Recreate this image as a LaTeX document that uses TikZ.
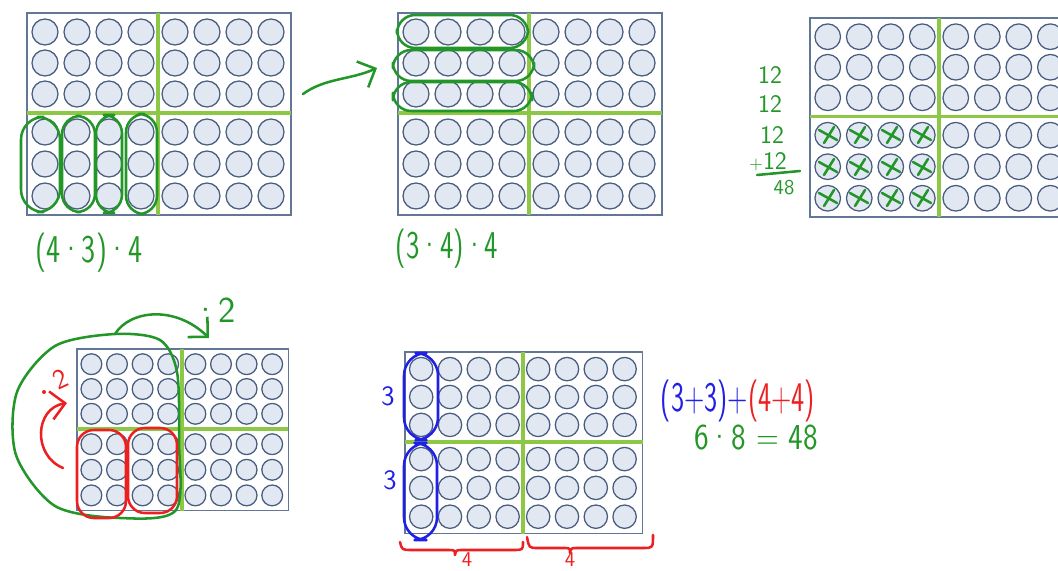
\documentclass[tikz,border=0pt]{standalone}
\usetikzlibrary{arrows.meta}
\definecolor{beadfill}{RGB}{226,232,241}
\definecolor{beadline}{RGB}{72,92,128}
\definecolor{trayline}{RGB}{98,118,150}
\definecolor{splitgreen}{RGB}{140,200,70}
\definecolor{pengreen}{RGB}{34,150,40}
\definecolor{penred}{RGB}{236,32,32}
\definecolor{penblue}{RGB}{32,32,230}
\tikzset{
  tray/.style={draw=trayline, line width=0.8pt},
  bead/.style={draw=beadline, fill=beadfill, line width=0.9pt},
  split/.style={draw=splitgreen, line width=2.6pt},
  pen/.style={draw=pengreen, line width=1.8pt, line cap=round, line join=round},
  redpen/.style={pen, draw=penred},
  bluepen/.style={pen, draw=penblue},
  ring/.style={pen, rounded corners=13},
  barb/.style={-{Straight Barb[angle=90:5mm]}},
  hand/.style={font=\sffamily\fontsize{#1}{#1}\selectfont, inner sep=0pt},
  hand/.default=24,
}
% one 6x8 tray of beads, top left corner at (#1,#2), scaled by #3
\newcommand{\beadtray}[3]{%
  \begin{scope}[shift={(#1,#2)}, scale=#3]
    \draw[tray] (0,0) rectangle (264,202);
    \foreach \cx in {18,50,82,114,148,180,212,244}
      \foreach \cy in {19,50,81,119,151,183}
        \draw[bead] (\cx,\cy) circle [radius=13];
    \draw[split] (131,0) -- (131,202);
    \draw[split] (0,100) -- (264,100);
  \end{scope}}
\newcommand{\smallplus}{{\fontsize{13}{13}\selectfont+}}

\begin{document}
\begin{tikzpicture}[x=0.025cm, y=-0.025cm]
  \useasboundingbox (0,0) rectangle (1058,571);

  % the five trays
  \beadtray{27}{13}{1}
  \beadtray{398}{13}{1}
  \beadtray{810}{18}{0.985}
  \beadtray{77}{349}{0.8}
  \beadtray{405}{352}{0.9}

  % tray 1: columns of the lower left part
  \draw[ring, rounded corners=16] (21,117) rectangle (60,212);
  \draw[ring] (62,116) rectangle (95,212);
  \draw[ring] (96,115) rectangle (122,213);
  \draw[ring] (126,114) rectangle (157,214);
  \node[hand=28, xscale=0.76, text=pengreen] (lab1) at (89,253) {(4·3)·4};

  \coordinate (go1) at (303,94);
  \coordinate (go2) at (377,68);
  \draw[pen, barb] (go1) .. controls (325,78) and (350,80) .. (go2);

  % tray 2: rows of the upper left part
  \draw[ring] (397,15) rectangle (528,48);
  \draw[ring] (393,50) rectangle (534,81);
  \draw[ring] (393,82) rectangle (532,111);
  \node[hand=28, xscale=0.72, text=pengreen] (lab2) at (447,249) {(3·4)·4};

  % tray 3: crossed out beads and the sum
  \foreach \cx in {828,859,891,922}
    \foreach \cy in {135,167,198} {
      \draw[pen] (\cx-9,\cy-5) -- (\cx+9,\cy+5);
      \draw[pen] (\cx-4,\cy+8) -- (\cx+6,\cy-8);
    }
  \node[hand=18, text=pengreen] (s1) at (770,75) {12};
  \node[hand=18, text=pengreen] (s2) at (770,104) {12};
  \node[hand=18, text=pengreen] (s3) at (772,135) {12};
  \node[hand=18, text=pengreen] (s4) at (768,162) {\smallplus12};
  \draw[pen] (757,175) -- (800,171);
  \node[hand=15, text=pengreen] (tot) at (784,188) {48};

  % tray 4: halves and doubling
  \draw[pen] plot[smooth cycle] coordinates {(115,334) (55,346) (17,392) (16,455)
    (55,506) (120,518) (176,510) (179,440) (177,372) (160,340)};
  \coordinate (dbl1) at (115,334);
  \coordinate (dbl2) at (209,338);
  \draw[pen, barb] (dbl1) .. controls (130,310) and (175,305) .. (dbl2);
  \node[hand=26, text=pengreen] (two1) at (214,310) {·2};
  \draw[redpen, rounded corners=12] (77,430) rectangle (126,518);
  \draw[redpen, rounded corners=12] (128,428) rectangle (177,513);
  \coordinate (hlf1) at (63,468);
  \coordinate (hlf2) at (67,403);
  \draw[redpen, barb] (hlf1) .. controls (32,455) and (35,408) .. (hlf2);
  \fill[penred] (44,392) circle [radius=2];
  \node[hand=20, text=penred, rotate=25] (two2) at (60,379) {2};

  % tray 5: 3 and 3, 4 and 4
  \draw[bluepen, rounded corners=16] (404,353) rectangle (438,440);
  \draw[bluepen, rounded corners=16] (404,443) rectangle (437,540);
  \node[hand=20, text=penblue] (th1) at (388,396) {3};
  \node[hand=20, text=penblue] (th2) at (390,480) {3};
  \draw[redpen] (400,542) .. controls (402,550) .. (412,550) -- (447,550)
    .. controls (455,550) .. (455,555) .. controls (456,550) .. (463,550)
    -- (513,550) .. controls (523,550) .. (523,542);
  \draw[redpen] (527,537) .. controls (529,548) .. (538,548) -- (563,548)
    .. controls (570,548) .. (570,553) .. controls (571,548) .. (578,548)
    -- (643,548) .. controls (653,548) .. (653,535);
  \node[hand=15, text=penred] (fr1) at (467,560) {4};
  \node[hand=15, text=penred] (fr2) at (570,560) {4};
  \node[hand=30, xscale=0.66] (eq1) at (738,401)
    {\color{penblue}(3+3)+\color{penred}(4+4)};
  \node[hand=26, xscale=0.85, text=pengreen] (eq2) at (756,438) {6·8 = 48};
\end{tikzpicture}
\end{document}
